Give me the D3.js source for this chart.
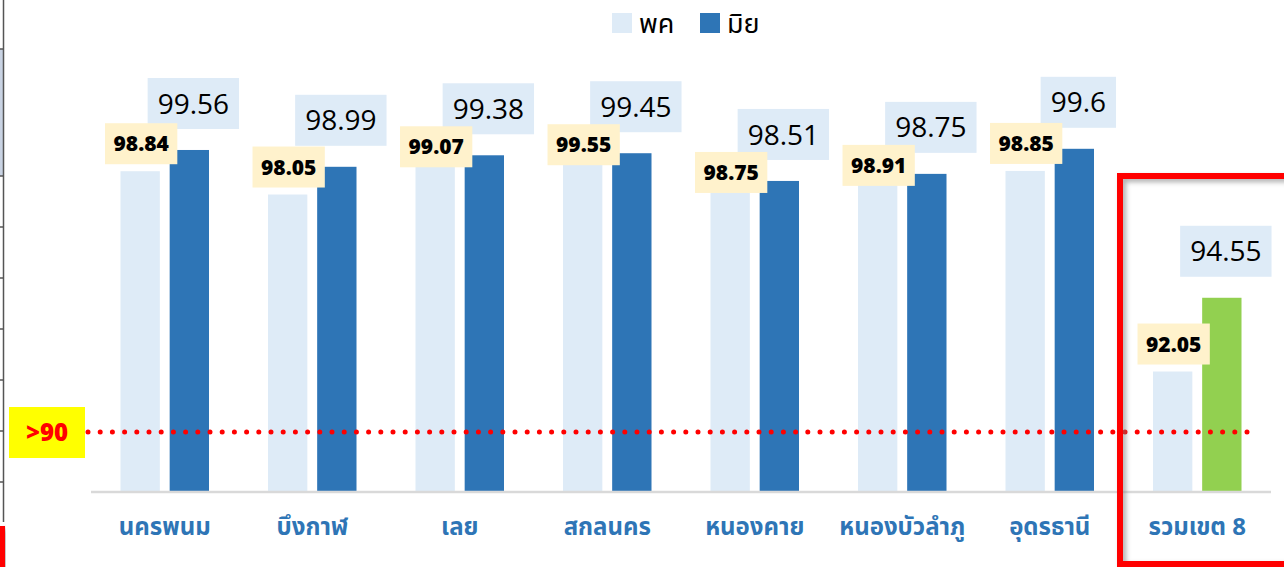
<!DOCTYPE html>
<html lang="th">

<head>
    <meta charset="UTF-8">
    <title>chart</title>
    <style>
        body { margin: 0; background: #fff; }
        svg { display: block; font-family: "Noto Sans Thai", "Noto Sans", "Open Sans", sans-serif; }
    </style>
</head>

<body>
    <script type='text/javascript' src='https://d3js.org/d3.v7.min.js'></script>

    <script>
        // data
        const categories = ['นครพนม', 'บึงกาฬ', 'เลย', 'สกลนคร', 'หนองคาย', 'หนองบัวลำภู', 'อุดรธานี', 'รวมเขต 8'];
        const seriesNames = ['พค', 'มิย'];
        const valuesPK = [98.84, 98.05, 99.07, 99.55, 98.75, 98.91, 98.85, 92.05];
        const valuesMIY = [99.56, 98.99, 99.38, 99.45, 98.51, 98.75, 99.6, 94.55];
        const threshold = 90;
        const thresholdLabel = '>90';
        const totalCategory = 'รวมเขต 8';
        // slide leftovers at the left edge
        const edgeLines = [49, 176, 227, 278, 329, 380, 431, 482];

        const W = 1284, H = 567;
        const svg = d3.select('body').append('svg').attr('width', W).attr('height', H);

        const defs = svg.append('defs');
        defs.append('filter').attr('id', 'shadow')
            .attr('x', '-10%').attr('y', '-10%').attr('width', '130%').attr('height', '130%')
            .append('feDropShadow')
            .attr('dx', 3).attr('dy', 3).attr('stdDeviation', 2.5)
            .attr('flood-color', '#777').attr('flood-opacity', 0.6);

        var x0 = d3.scaleBand().domain(categories).range([91, 1271]).paddingInner(0.4).paddingOuter(0.2);
        var x1 = d3.scaleBand().domain(seriesNames).range([0, x0.bandwidth()]).paddingInner(0.2);
        var y = d3.scaleLinear().domain([88, 100]).range([491, 137]);

        const colLight = '#deebf7', colDark = '#2e75b6', colGreen = '#92d050';

        // left edge table lines
        svg.append('rect').attr('x', 0).attr('y', edgeLines[0]).attr('width', 3)
            .attr('height', edgeLines[1] - edgeLines[0]).style('fill', '#c9d3e3');
        svg.append('line').attr('x1', 3.5).attr('x2', 3.5).attr('y1', 0).attr('y2', 522)
            .style('stroke', '#555').style('stroke-width', 1.5);
        svg.selectAll('.edge')
            .data(edgeLines)
            .enter().append('line')
            .attr('class', 'edge')
            .attr('x1', 0).attr('x2', 4)
            .attr('y1', d => d).attr('y2', d => d)
            .style('stroke', '#555').style('stroke-width', 1.5);
        svg.append('rect').attr('x', 0).attr('y', 526).attr('width', 5).attr('height', 60)
            .style('fill', '#ff0000').attr('filter', 'url(#shadow)');

        // bars
        const rows = categories.map((c, i) => ({ cat: c, pk: valuesPK[i], miy: valuesMIY[i] }));

        svg.selectAll('.barPK')
            .data(rows)
            .enter().append('rect')
            .attr('class', 'barPK')
            .attr('x', d => x0(d.cat) + x1(seriesNames[0]))
            .attr('y', d => y(d.pk))
            .attr('width', x1.bandwidth())
            .attr('height', d => y(88) - y(d.pk))
            .style('fill', colLight);

        svg.selectAll('.barMIY')
            .data(rows)
            .enter().append('rect')
            .attr('class', 'barMIY')
            .attr('x', d => x0(d.cat) + x1(seriesNames[1]))
            .attr('y', d => y(d.miy))
            .attr('width', x1.bandwidth())
            .attr('height', d => y(88) - y(d.miy))
            .style('fill', d => d.cat === totalCategory ? colGreen : colDark);

        // baseline
        svg.append('line').attr('x1', 91).attr('x2', 1271).attr('y1', y(88) + 1).attr('y2', y(88) + 1)
            .style('stroke', '#d9d9d9').style('stroke-width', 2.5);

        // category labels
        svg.selectAll('.cat')
            .data(categories)
            .enter().append('text')
            .attr('class', 'cat')
            .attr('x', d => x0(d) + x0.bandwidth() / 2)
            .attr('y', 535)
            .attr('text-anchor', 'middle')
            .style('font-size', '24px').style('font-weight', 'bold')
            .style('fill', colDark)
            .text(d => d);

        // threshold dotted line
        svg.append('line')
            .attr('x1', 88).attr('x2', 1254)
            .attr('y1', y(threshold)).attr('y2', y(threshold))
            .style('stroke', '#ff0000').style('stroke-width', 5)
            .style('stroke-linecap', 'round')
            .style('stroke-dasharray', '0 12.2');

        const thr = svg.append('g').attr('transform', `translate(47,${y(threshold)})`);
        thr.append('rect').attr('x', -38).attr('y', -25).attr('width', 76).attr('height', 51).style('fill', '#ffff00');
        thr.append('text').attr('text-anchor', 'middle').attr('dy', '0.36em')
            .style('font-size', '24px').style('font-weight', 900).style('fill', '#ff0000')
            .style('font-family', '"Open Sans", sans-serif')
            .text(thresholdLabel);

        // value labels, box drawn behind text
        function addLabel(cx, cy, txt, size, weight, pad, h, fill) {
            const g = svg.append('g').attr('transform', `translate(${cx},${cy})`);
            const r = g.append('rect').style('fill', fill);
            const t = g.append('text').attr('text-anchor', 'middle').attr('dy', '0.36em')
                .style('font-size', size + 'px').style('font-weight', weight).style('fill', '#000')
                .style('font-family', '"Open Sans", "Noto Sans", sans-serif')
                .text(txt);
            const bw = t.node().getBBox().width + pad * 2;
            r.attr('x', -bw / 2).attr('y', -h / 2).attr('width', bw).attr('height', h);
        }

        const darkH = 51, lightH = 41;
        rows.forEach(d => {
            d.darkCy = y(d.miy) - 21 - darkH / 2;
            addLabel(x0(d.cat) + x1(seriesNames[1]) + x1.bandwidth() / 2 + 4, d.darkCy,
                String(d.miy), 28, 'normal', 10, darkH, colLight);
        });
        rows.forEach(d => {
            // sit above its bar, but slide down below the neighbouring box when they collide
            const above = y(d.pk) - 7 - lightH / 2;
            const below = d.darkCy + darkH / 2 - 8 + lightH / 2;
            addLabel(x0(d.cat) + x1(seriesNames[0]) + x1.bandwidth() / 2 + 1, Math.max(above, below),
                String(d.pk), 21, 800, 8.5, lightH, '#fff2cc');
        });

        // legend
        const leg = svg.selectAll('.leg')
            .data(seriesNames)
            .enter().append('g')
            .attr('class', 'leg')
            .attr('transform', (d, i) => `translate(${612 + i * 88},13)`);
        leg.append('rect').attr('width', 20).attr('height', 20)
            .style('fill', (d, i) => i === 0 ? colLight : colDark);
        leg.append('text').attr('x', 27).attr('y', 10).attr('dy', '0.36em')
            .style('font-size', '27px').style('fill', '#000')
            .text(d => d);

        // red highlight frame round the total
        svg.append('rect')
            .attr('x', 1120).attr('y', 176).attr('width', 200).attr('height', 388)
            .style('fill', 'none').style('stroke', '#ff0000').style('stroke-width', 6)
            .attr('filter', 'url(#shadow)');

        console.log('ready..');
    </script>
</body>

</html>
